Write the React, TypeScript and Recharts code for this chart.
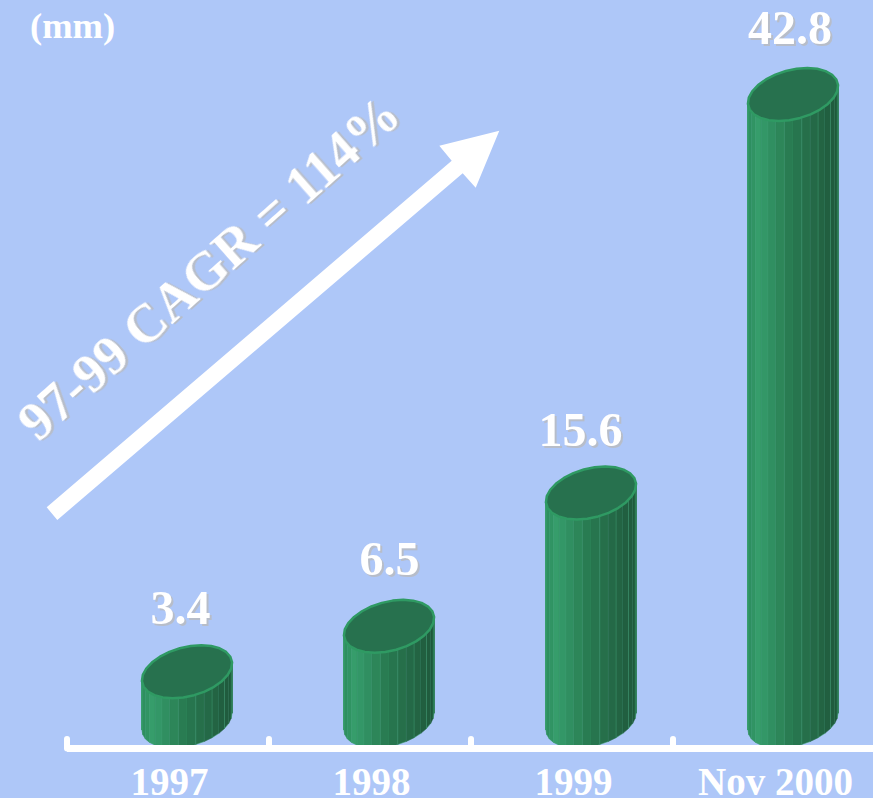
import React from 'react';
import { BarChart, Bar, XAxis, YAxis, LabelList } from 'recharts';

const categories = ['1997', '1998', '1999', 'Nov 2000'];
const diameters = [3.4, 6.5, 15.6, 42.8];
const chartData = categories.map((year, i) => ({ year, diameter: diameters[i] }));

const CHART_W = 873;
const CHART_H = 798;
const AXIS_H = 49.5;
const AXIS_Y = CHART_H - AXIS_H;
const MARGIN_L = 67;
const BAND = 202;
const BAR_W = 91;
const BAR_SHIFT = 18.5; // cylinders sit right of the band centre
const TILT = (14.75 * Math.PI) / 180;
const SERIF = '"Liberation Serif", "Times New Roman", serif';
const SHADOW = 'drop-shadow(2px 2px 0 #b7bdc9)';

// hand placement of the value labels over each cylinder
const labelDx = [-6.5, 0.5, -10.5, -3];
const labelDy = [-48, -51, -47, -50];

const BG = '#aec7f8';
const TOP_FILL = '#27714e';
const EDGE = '#2f9a63';

// stops across the cylinder body, left to right
const bodyStops: [number, number[]][] = [
  [0, [44, 138, 92]],
  [0.12, [54, 158, 108]],
  [0.45, [41, 124, 82]],
  [0.75, [36, 104, 70]],
  [1, [31, 88, 59]],
];

const bodyColor = (p: number) => {
  for (let i = 1; i < bodyStops.length; i++) {
    const [p0, c0] = bodyStops[i - 1];
    const [p1, c1] = bodyStops[i];
    if (p <= p1) {
      const k = (p - p0) / (p1 - p0);
      const c = c0.map((v, j) => Math.round(v + (c1[j] - v) * k));
      return `rgb(${c[0]},${c[1]},${c[2]})`;
    }
  }
  return '#1f583b';
};

// point on the tilted elliptical section of a cylinder
const sectionPoint = (t: number, a: number, b: number) => ({
  x: a * Math.cos(t) * Math.cos(TILT) + b * Math.sin(t) * Math.sin(TILT),
  y: -a * Math.cos(t) * Math.sin(TILT) + b * Math.sin(t) * Math.cos(TILT),
});

const Cylinder = (props: any) => {
  const { x, y, width, height } = props;
  const cx = x + width / 2 + BAR_SHIFT;
  const scale = width / 91;
  const a = 46.2 * scale;
  const b = 24.5 * scale;
  const start = Math.atan2(b * Math.sin(TILT), a * Math.cos(TILT));
  const steps = 16;

  const front = Array.from({ length: steps + 1 }, (_, i) => {
    const p = sectionPoint(start + (Math.PI * i) / steps, a, b);
    return { x: cx + p.x, y: y + p.y };
  }).reverse();

  const rim = Array.from({ length: 26 }, (_, i) => {
    const p = sectionPoint((2 * Math.PI * i) / 26 + 0.1, a, b);
    return `${cx + p.x},${y + p.y}`;
  }).join(' ');

  const left = front[0].x;
  const span = front[steps].x - left;

  return (
    <g>
      {front.slice(0, -1).map((p, i) => {
        const q = front[i + 1];
        const mid = ((p.x + q.x) / 2 - left) / span;
        const fill = bodyColor(mid);
        return (
          <polygon
            key={i}
            points={`${p.x},${p.y} ${q.x},${q.y} ${q.x},${q.y + height} ${p.x},${p.y + height}`}
            fill={fill}
            stroke={i % 2 ? '#3a9c6d' : fill}
            strokeWidth={0.5}
          />
        );
      })}
      <line x1={front[0].x} y1={front[0].y} x2={front[0].x} y2={front[0].y + height} stroke={EDGE} strokeWidth={1.5} />
      <line
        x1={front[steps].x}
        y1={front[steps].y}
        x2={front[steps].x}
        y2={front[steps].y + height}
        stroke="#2a7a52"
        strokeWidth={1.5}
      />
      <polygon points={rim} fill={TOP_FILL} stroke={EDGE} strokeWidth={2.5} strokeLinejoin="round" />
    </g>
  );
};

const ValueLabel = (props: any) => {
  const { x, y, width, value, index } = props;
  return (
    <text
      x={x + width / 2 + BAR_SHIFT + labelDx[index]}
      y={y + labelDy[index]}
      textAnchor="middle"
      fontFamily={SERIF}
      fontWeight="bold"
      fontSize={48}
      fill="#fff"
      style={{ filter: SHADOW }}
    >
      {value}
    </text>
  );
};

const YearTick = (props: any) => {
  const { x, payload } = props;
  const tickX = x - BAND / 2;
  return (
    <g>
      <line
        x1={tickX}
        x2={tickX}
        y1={AXIS_Y}
        y2={AXIS_Y - 9.5}
        stroke="#fff"
        strokeWidth={6}
        strokeLinecap="round"
      />
      <text
        x={x + 1.5}
        y={795}
        textAnchor="middle"
        fontFamily={SERIF}
        fontWeight="bold"
        fontSize={39}
        fill="#fff"
      >
        {payload.value}
      </text>
    </g>
  );
};

const App = () => (
  <div style={{ position: 'absolute', left: 0, top: 0, width: CHART_W, height: CHART_H, background: BG, overflow: 'hidden' }}>
    <BarChart
      width={CHART_W}
      height={CHART_H}
      data={chartData}
      margin={{ top: 0, right: CHART_W - MARGIN_L - BAND * categories.length, bottom: 0, left: MARGIN_L }}
      barCategoryGap={0}
    >
      <YAxis hide type="number" domain={[-1.84, 49.25]} />
      <Bar dataKey="diameter" barSize={BAR_W} shape={Cylinder} isAnimationActive={false}>
        <LabelList dataKey="diameter" content={ValueLabel} />
      </Bar>
      <XAxis
        dataKey="year"
        height={AXIS_H}
        interval={0}
        tickLine={false}
        axisLine={{ stroke: '#fff', strokeWidth: 7 }}
        tick={YearTick}
      />
      {/* growth arrow with its caption */}
      <polygon
        points="46.7,507.3 451.7,160.7 439.3,145.7 499.3,130.7 475.7,187.7 462.7,173.3 57.3,520"
        fill="#fff"
      />
      <text
        x={38}
        y={443}
        transform="rotate(-41.5 38 443)"
        fontFamily={SERIF}
        fontWeight="bold"
        fontSize={54}
        fill="#fff"
        style={{ filter: SHADOW }}
      >
        97-99 CAGR = 114%
      </text>
      <text x={30} y={38} fontFamily={SERIF} fontWeight="bold" fontSize={36.5} fill="#fff">
        (mm)
      </text>
    </BarChart>
  </div>
);

export default App;
